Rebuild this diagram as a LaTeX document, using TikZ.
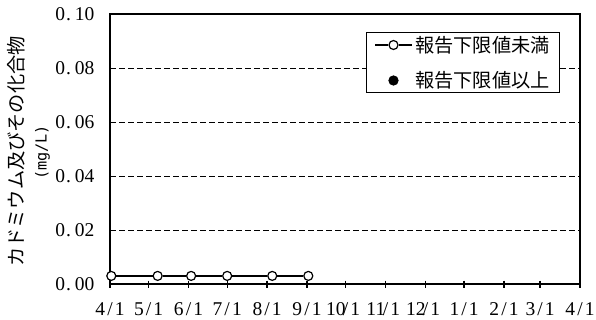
\documentclass[tikz,border=0pt]{standalone}
\usepackage{fontspec}
\setmainfont{Liberation Serif}
\newfontfamily\jpfont{Noto Sans CJK JP}
\newfontfamily\unitfont{DejaVu Sans Mono}
\newlength\cellw
\setlength\cellw{9.7pt}
\def\mcloop#1{\ifx#1\relax\else\ifx#1.\makebox[\cellw][l]{\kern1pt.}\else\makebox[\cellw]{#1}\fi\expandafter\mcloop\fi}
\newcommand\mcell[1]{\mcloop#1\relax}
\tikzset{
  numfont/.style={font=\fontsize{19.5}{21}\selectfont, inner sep=0pt},
  jpfontstyle/.style={font=\jpfont\fontsize{19.2}{21}\selectfont, inner sep=0pt},
  gridline/.style={line width=0.9pt, dash pattern=on 5.5pt off 3.5pt},
  axisline/.style={line width=1.3pt},
  dataline/.style={line width=1.2pt},
  opendot/.style={circle, draw, line width=1.2pt, fill=white, minimum size=9pt, inner sep=0pt},
  filldot/.style={circle, draw, line width=1.2pt, fill=black, minimum size=9pt, inner sep=0pt},
}
\begin{document}
\begin{tikzpicture}[x=1pt,y=-1pt]
\useasboundingbox (0,0) rectangle (596,320);
% grid
\foreach \yy in {68,122,176,230}{
  \draw[gridline] (110,\yy) -- (580,\yy);
}
% frame
\draw[axisline] (110,14) rectangle (580,284);
% ticks
\foreach \d in {0,30,61,91,122,153,183,214,245,275,306,334,365}{
  \pgfmathsetmacro\xx{110+\d*1.287671}
  \draw[axisline] (\xx,280.5) -- (\xx,287.5);
}
% x labels
\foreach \d/\m in {0/4,30/5,61/6,91/7,122/8,153/9,183/10,214/11,245/12,275/1,306/2,334/3,365/4}{
  \pgfmathsetmacro\xx{110+\d*1.287671}
  \node[numfont, anchor=base] (xl\d) at (\xx,315) {\mcell{\m/1}};
}
% y labels
\node[numfont, anchor=east] (y0) at (94.5,284) {\mcell{0.00}};
\node[numfont, anchor=east] (y2) at (94.5,230) {\mcell{0.02}};
\node[numfont, anchor=east] (y4) at (94.5,176) {\mcell{0.04}};
\node[numfont, anchor=east] (y6) at (94.5,122) {\mcell{0.06}};
\node[numfont, anchor=east] (y8) at (94.5,68) {\mcell{0.08}};
\node[numfont, anchor=east] (y10) at (94.5,14) {\mcell{0.10}};
% y axis title
\node[jpfontstyle, rotate=90] (ytitle) at (16.5,151.5) {カドミウム及びその化合物};
\node[font=\unitfont\fontsize{15.2}{17}\selectfont, inner sep=0pt, rotate=90] (yunit) at (42.5,152.5) {(mg/L)};
% legend
\node[draw, line width=1pt, fill=white, minimum width=193pt, minimum height=60pt, anchor=north west, inner sep=0pt] (legend) at (366,32) {};
\coordinate (la) at (375,45);
\coordinate (lb) at (412,45);
\node[opendot] (lc1) at (393.5,45) {};
\draw[dataline] (la) -- (lc1) -- (lb);
\node[jpfontstyle, anchor=west] (lt1) at (415,45) {報告下限値未満};
\node[filldot] (lc2) at (393.5,80.5) {};
\node[jpfontstyle, anchor=west] (lt2) at (415,80.5) {報告下限値以上};
% data
\foreach \i/\d in {1/1,2/37,3/63,4/91,5/126,6/154}{
  \pgfmathsetmacro\xx{110+\d*1.287671}
  \node[opendot] (p\i) at (\xx,275.9) {};
}
\draw[dataline] (p1) -- (p2) -- (p3) -- (p4) -- (p5) -- (p6);
\end{tikzpicture}
\end{document}
